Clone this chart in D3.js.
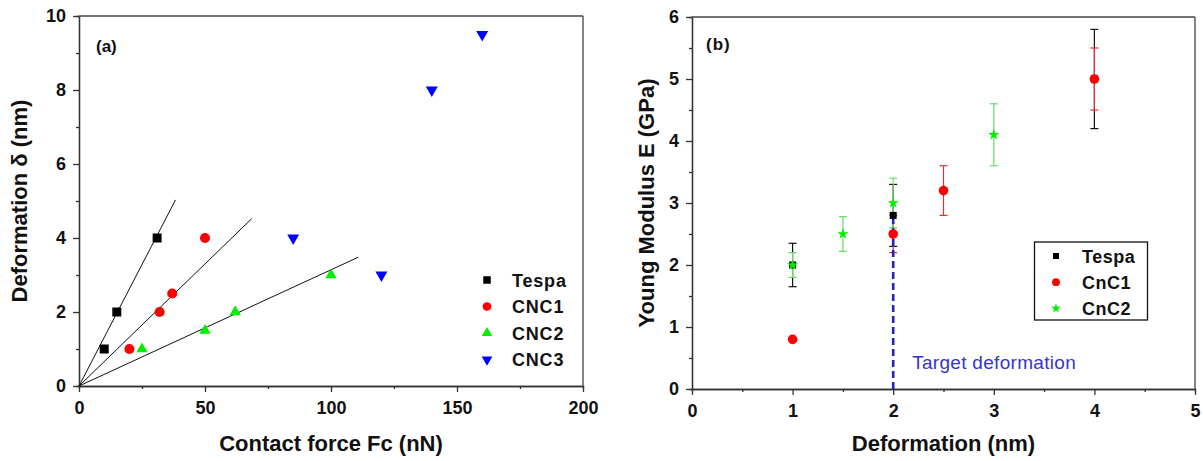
<!DOCTYPE html>
<html>
<head>
<meta charset="utf-8">
<script src="https://cdn.jsdelivr.net/npm/d3@7"></script>
<style>
  body { margin: 0; background: #fff; }
  svg { display: block; font-family: "Liberation Sans", Arial, sans-serif; }
  .axis path, .axis line { stroke: #333; stroke-width: 1.3; }
</style>
</head>
<body>
<svg id="chart" width="1203" height="461"></svg>
<script>
// ---- panel (a) data: contact force (nN) vs deformation (nm)
const tespaF = [10, 15, 31];
const tespaD = [1, 2, 4];
const cnc1F = [20, 32, 37, 50];
const cnc1D = [1, 2, 2.5, 4];
const cnc2F = [25, 50, 62, 100];
const cnc2D = [1, 1.5, 2, 3];
const cnc3F = [85, 120, 140, 160];
const cnc3D = [4, 3, 8, 9.5];
// fitted lines, [x0, y0, x1, y1]
const fitTespa = [0, 0, 38.3, 5.03];
const fitCnc1 = [0, 0, 68.5, 4.52];
const fitCnc2 = [0, 0, 110.8, 3.48];
const legendA = ["Tespa", "CNC1", "CNC2", "CNC3"];

// ---- panel (b) data: deformation (nm) vs Young modulus (GPa)
const tespaDef = [1, 2, 4];
const tespaE = [2, 2.8, 5];
const tespaErr = [0.35, 0.5, 0.8];
const cnc1Def = [1, 2, 2.5, 4];
const cnc1E = [0.8, 2.5, 3.2, 5];
const cnc1Err = [0, 0.3, 0.4, 0.5];
const cnc2Def = [1, 1.5, 2, 3];
const cnc2E = [2, 2.5, 3, 4.1];
const cnc2Err = [0.2, 0.28, 0.4, 0.5];
const targetDef = 2;
const targetTop = 2.75;
const legendB = ["Tespa", "CnC1", "CnC2"];

const svg = d3.select("#chart");

function styleTicks(sel) {
  sel.selectAll("text")
    .style("font-family", "'Liberation Sans', Arial, sans-serif")
    .style("font-weight", "bold")
    .style("font-size", "18px")
    .style("fill", "#111");
}

function drawAxes(g, x, y, xMajor, xMinor, yMajor, yMinor, w, h) {
  g.append("g").attr("class", "axis").attr("transform", `translate(0,${h})`)
    .call(d3.axisBottom(x).tickValues(xMinor).tickSize(3).tickFormat(""));
  g.append("g").attr("class", "axis")
    .call(d3.axisLeft(y).tickValues(yMinor).tickSize(3).tickFormat(""));
  g.append("g").attr("class", "axis").attr("transform", `translate(0,${h})`)
    .call(d3.axisBottom(x).tickValues(xMajor).tickSize(6).tickSizeOuter(0).tickPadding(9).tickFormat(d3.format("d")))
    .call(styleTicks);
  g.append("g").attr("class", "axis")
    .call(d3.axisLeft(y).tickValues(yMajor).tickSize(6).tickSizeOuter(0).tickPadding(7).tickFormat(d3.format("d")))
    .call(styleTicks);
  // frame top / right
  g.append("line").attr("x1", 0).attr("x2", w).attr("y1", 0).attr("y2", 0).attr("stroke", "#444").attr("stroke-width", 1.3);
  g.append("line").attr("x1", w).attr("x2", w).attr("y1", 0).attr("y2", h).attr("stroke", "#444").attr("stroke-width", 1.3);
}

// ================= panel (a)
{
  const left = 79, top = 16, w = 504, h = 370;
  const g = svg.append("g").attr("transform", `translate(${left},${top})`);
  const x = d3.scaleLinear().domain([0, 200]).range([0, w]);
  const y = d3.scaleLinear().domain([0, 10]).range([h, 0]);
  drawAxes(g, x, y, d3.range(0, 201, 50), d3.range(25, 200, 50), d3.range(0, 11, 2), d3.range(1, 10, 2), w, h);

  [fitTespa, fitCnc1, fitCnc2].forEach(f => {
    g.append("line").attr("x1", x(f[0])).attr("y1", y(f[1])).attr("x2", x(f[2])).attr("y2", y(f[3]))
      .attr("stroke", "#111").attr("stroke-width", 1);
  });

  const sq = d3.symbol().type(d3.symbolSquare).size(81);
  const ci = d3.symbol().type(d3.symbolCircle).size(80);
  const tri = d3.symbol().type(d3.symbolTriangle).size(56);
  const triDown = d3.symbol().type(d3.symbolTriangle).size(62);

  const series = [
    { f: tespaF, d: tespaD, sym: sq, col: "#000", rot: 0 },
    { f: cnc1F, d: cnc1D, sym: ci, col: "#ff0000", rot: 0 },
    { f: cnc2F, d: cnc2D, sym: tri, col: "#00ee00", rot: 0 },
    { f: cnc3F, d: cnc3D, sym: triDown, col: "#0000ff", rot: 180 }
  ];
  series.forEach(s => {
    g.selectAll(null).data(s.f).enter().append("path")
      .attr("d", s.sym)
      .attr("transform", (v, i) => `translate(${x(v)},${y(s.d[i])}) rotate(${s.rot})`)
      .attr("fill", s.col);
  });

  // legend
  const lg = svg.append("g");
  const legSizes = [56, 60, 46, 50];
  legendA.forEach((name, i) => {
    const s = series[i];
    const cy = 280 + i * 26.5;
    lg.append("path").attr("d", s.sym.size(legSizes[i])())
      .attr("transform", `translate(487,${cy}) rotate(${s.rot})`).attr("fill", s.col);
    lg.append("text").attr("x", 512).attr("y", cy + 6.5).text(name)
      .attr("font-weight", "bold").attr("font-size", 18).attr("letter-spacing", 0.8).attr("fill", "#111");
  });

  svg.append("text").attr("x", 96).attr("y", 52).text("(a)")
    .attr("font-weight", "bold").attr("font-size", 17).attr("fill", "#111");
  svg.append("text").attr("x", left + w / 2).attr("y", 451).attr("text-anchor", "middle")
    .text("Contact force Fc (nN)").attr("font-weight", "bold").attr("font-size", 22).attr("fill", "#111");
  svg.append("text").attr("transform", `translate(27,${top + h / 2}) rotate(-90)`).attr("text-anchor", "middle")
    .text("Deformation δ (nm)").attr("font-weight", "bold").attr("font-size", 22).attr("fill", "#111");
}

// ================= panel (b)
{
  const left = 692, top = 17, w = 503, h = 372;
  const g = svg.append("g").attr("transform", `translate(${left},${top})`);
  const x = d3.scaleLinear().domain([0, 5]).range([0, w]);
  const y = d3.scaleLinear().domain([0, 6]).range([h, 0]);
  drawAxes(g, x, y, d3.range(0, 6, 1), d3.range(0.5, 5, 1), d3.range(0, 7, 1), d3.range(0.5, 6, 1), w, h);

  const sq = d3.symbol().type(d3.symbolSquare).size(49);
  const ci = d3.symbol().type(d3.symbolCircle).size(72);
  const st = d3.symbol().type(d3.symbolStar).size(40);

  const series = [
    { xs: tespaDef, ys: tespaE, es: tespaErr, sym: sq, col: "#000", ecol: "#111" },
    { xs: cnc1Def, ys: cnc1E, es: cnc1Err, sym: ci, col: "#ff0000", ecol: "#e0303a" },
    { xs: cnc2Def, ys: cnc2E, es: cnc2Err, sym: st, col: "#00ee00", ecol: "#66dd66" }
  ];

  // error bars
  series.forEach(s => {
    s.xs.forEach((xv, i) => {
      if (!s.es[i]) return;
      const px = x(xv), y1 = y(s.ys[i] + s.es[i]), y0 = y(s.ys[i] - s.es[i]);
      g.append("line").attr("x1", px).attr("x2", px).attr("y1", y1).attr("y2", y0).attr("stroke", s.ecol).attr("stroke-width", 1.2);
      [y1, y0].forEach(yy => g.append("line").attr("x1", px - 4).attr("x2", px + 4).attr("y1", yy).attr("y2", yy)
        .attr("stroke", s.ecol).attr("stroke-width", 1.2));
    });
  });

  // target deformation line
  g.append("line").attr("x1", x(targetDef)).attr("x2", x(targetDef)).attr("y1", y(0)).attr("y2", y(targetTop))
    .attr("stroke", "#2424b0").attr("stroke-width", 2.6).attr("stroke-dasharray", "7,4");
  g.append("text").attr("x", x(targetDef) + 19).attr("y", y(0) - 20).text("Target deformation")
    .attr("font-size", 19).attr("letter-spacing", 0.3).attr("fill", "#3535cc");

  series.forEach(s => {
    g.selectAll(null).data(s.xs).enter().append("path")
      .attr("d", s.sym)
      .attr("transform", (v, i) => `translate(${x(v)},${y(s.ys[i])})`)
      .attr("fill", s.col);
  });

  // legend
  svg.append("rect").attr("x", 1034.5).attr("y", 242).attr("width", 113).attr("height", 78)
    .attr("fill", "#fff").attr("stroke", "#111").attr("stroke-width", 1.3);
  const legSizes = [36, 48, 30];
  legendB.forEach((name, i) => {
    const s = series[i];
    const cy = 256 + i * 26.2;
    svg.append("path").attr("d", s.sym.size(legSizes[i])())
      .attr("transform", `translate(1056,${cy})`).attr("fill", s.col);
    svg.append("text").attr("x", 1082).attr("y", cy + 6.5).text(name)
      .attr("font-weight", "bold").attr("font-size", 18).attr("letter-spacing", 0.5).attr("fill", "#111");
  });

  svg.append("text").attr("x", 706).attr("y", 50).text("(b)")
    .attr("font-weight", "bold").attr("font-size", 17).attr("letter-spacing", 1).attr("fill", "#111");
  svg.append("text").attr("x", left + w / 2).attr("y", 451).attr("text-anchor", "middle")
    .text("Deformation (nm)").attr("font-weight", "bold").attr("font-size", 22).attr("fill", "#111");
  svg.append("text").attr("transform", `translate(654,${top + h / 2}) rotate(-90)`).attr("text-anchor", "middle")
    .text("Young Modulus E (GPa)").attr("font-weight", "bold").attr("font-size", 22).attr("fill", "#111");
}
</script>
</body>
</html>
